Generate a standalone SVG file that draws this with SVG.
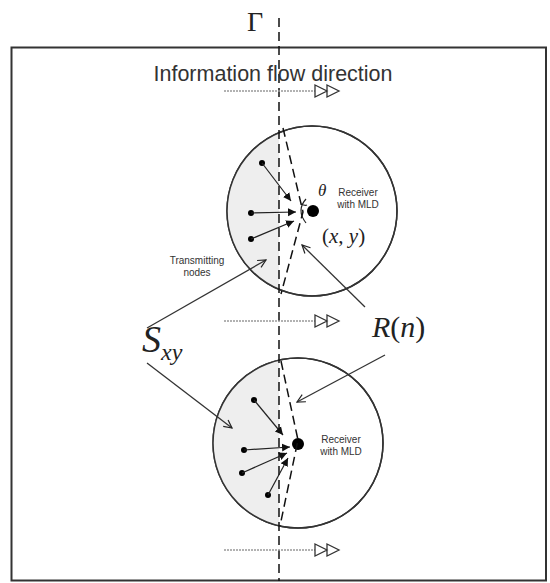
<svg xmlns="http://www.w3.org/2000/svg" width="550" height="583" viewBox="0 0 550 583">
<defs>
<style>
.ln{stroke:#222;stroke-width:1.2;fill:none}
.ptr{stroke:#333;stroke-width:1.3;fill:none}
.dash{stroke:#111;stroke-width:1.5;stroke-dasharray:9 5;fill:none}
.dot{stroke:#999;stroke-width:1.5;stroke-dasharray:2 1;fill:none}
.tri{stroke:#333;stroke-width:1.3;fill:#fff}
.sans{font-family:"Liberation Sans",Arial,sans-serif;fill:#333}
.serif{font-family:"Liberation Serif","Times New Roman",serif;fill:#222}
</style>
<marker id="ah" markerWidth="10" markerHeight="10" refX="9" refY="5" orient="auto" markerUnits="userSpaceOnUse">
<path d="M1,1 L9,5 L1,9" stroke="#222" stroke-width="1.2" fill="none"/>
</marker>
<marker id="ahs" markerWidth="9" markerHeight="9" refX="8" refY="4.5" orient="auto" markerUnits="userSpaceOnUse">
<path d="M0,0.5 L8,4.5 L0,8.5 Z" fill="#111"/>
</marker>
<g id="flow">
<path d="M315,-6 L327,0 L315,6 Z M327,-6 L339,0 L327,6 Z" class="tri"/>
</g>
</defs>
<rect x="0" y="0" width="550" height="583" fill="#fff"/>
<rect id="frame" x="11.5" y="47.5" width="534.5" height="533" fill="none" stroke="#333" stroke-width="2"/>

<g id="circle-top">
<circle cx="312" cy="211" r="85" fill="#fff" stroke="#333" stroke-width="1.5"/>
<path d="M279,132.7 A85,85 0 0 0 279,289.3 Z" fill="#eeeeee"/>
<circle cx="312" cy="211" r="85" fill="none" stroke="#333" stroke-width="1.5"/>
<circle cx="313" cy="211" r="6" fill="#000"/>
<path d="M306,199 Q296,210 306,223" class="ln"/>
<path d="M301,204 Q305,206 307,205" class="ln"/>
<circle cx="262" cy="163" r="3" fill="#000"/>
<circle cx="251" cy="213" r="3" fill="#000"/>
<circle cx="251" cy="239" r="3" fill="#000"/>
</g>
<g id="circle-bottom">
<circle cx="298" cy="443" r="85" fill="#fff" stroke="#333" stroke-width="1.5"/>
<path d="M279,360.1 A85,85 0 0 0 279,525.9 Z" fill="#eeeeee"/>
<circle cx="298" cy="443" r="85" fill="none" stroke="#333" stroke-width="1.5"/>
<circle cx="298" cy="444" r="6" fill="#000"/>
<circle cx="254" cy="400" r="3" fill="#000"/>
<circle cx="244" cy="450" r="3" fill="#000"/>
<circle cx="242" cy="473" r="3" fill="#000"/>
<circle cx="268" cy="495" r="3" fill="#000"/>
</g>

<g id="connectors">
<path d="M279,18 L279,581" class="dash"/>
<path d="M283,128 L303,212 L281,294" class="dash"/>
<path d="M281,361 L298,440 L280,526" class="dash"/>
<path d="M224,91 L315,91" class="dot"/>
<path d="M224,321 L315,321" class="dot"/>
<path d="M224,550 L315,550" class="dot"/>
<use href="#flow" x="0" y="91"/>
<use href="#flow" x="0" y="321"/>
<use href="#flow" x="0" y="550"/>
<path d="M262,163 L291,201" class="ln" marker-end="url(#ahs)"/>
<path d="M251,213 L296,212" class="ln" marker-end="url(#ahs)"/>
<path d="M251,239 L294,221" class="ln" marker-end="url(#ahs)"/>
<path d="M254,400 L283,435" class="ln" marker-end="url(#ahs)"/>
<path d="M244,450 L290,447" class="ln" marker-end="url(#ahs)"/>
<path d="M242,473 L287,453" class="ln" marker-end="url(#ahs)"/>
<path d="M268,495 L288,458" class="ln" marker-end="url(#ahs)"/>
<path d="M147,328 L266,260" class="ptr" marker-end="url(#ah)"/>
<path d="M147,363 L232,428" class="ptr" marker-end="url(#ah)"/>
<path d="M365,307 L302,245" class="ptr" marker-end="url(#ah)"/>
<path d="M385,355 L297,402" class="ptr" marker-end="url(#ah)"/>
</g>

<g id="labels">
<text x="255" y="31" class="serif" font-size="28" text-anchor="middle">Γ</text>
<text x="273" y="81" class="sans" font-size="21.5" text-anchor="middle">Information flow direction</text>
<text x="358" y="196" class="sans" font-size="10" text-anchor="middle">Receiver</text>
<text x="358" y="208" class="sans" font-size="10" text-anchor="middle">with MLD</text>
<text x="318" y="196" class="serif" font-size="17" font-style="italic">θ</text>
<text x="322" y="243" class="serif" font-size="21">(<tspan font-style="italic">x</tspan>, <tspan font-style="italic">y</tspan>)</text>
<text x="197" y="264" class="sans" font-size="10" text-anchor="middle">Transmitting</text>
<text x="197" y="276" class="sans" font-size="10" text-anchor="middle">nodes</text>
<text x="142" y="352" class="serif" font-size="38" font-style="italic">S<tspan font-size="24" dy="8">xy</tspan></text>
<text x="372" y="337" class="serif" font-size="30"><tspan font-style="italic">R</tspan>(<tspan font-style="italic">n</tspan>)</text>
<text x="341" y="443" class="sans" font-size="10" text-anchor="middle">Receiver</text>
<text x="341" y="455" class="sans" font-size="10" text-anchor="middle">with MLD</text>
</g>
</svg>
